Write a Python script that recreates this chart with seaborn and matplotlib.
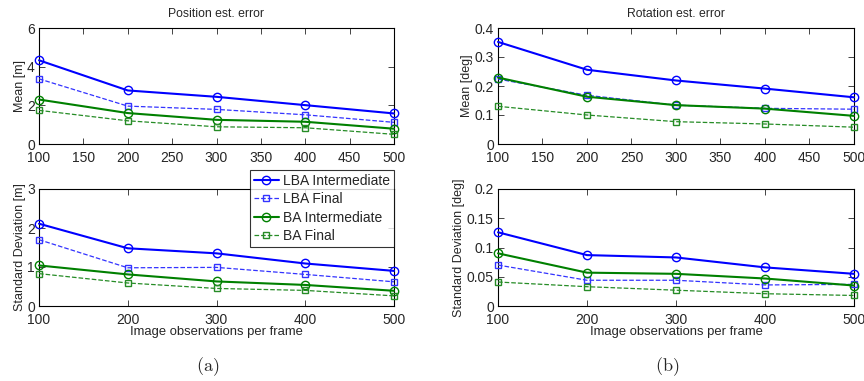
import matplotlib
matplotlib.use("Agg")
import matplotlib.pyplot as plt
import seaborn as sns
import pandas as pd

obs = [100, 200, 300, 400, 500]
series = ["LBA Intermediate", "LBA Final", "BA Intermediate", "BA Final"]

pos_mean_lba_int = [4.33, 2.77, 2.44, 2.01, 1.58]
pos_mean_lba_fin = [3.37, 1.96, 1.79, 1.51, 1.12]
pos_mean_ba_int = [2.30, 1.60, 1.25, 1.15, 0.79]
pos_mean_ba_fin = [1.74, 1.20, 0.89, 0.84, 0.50]

rot_mean_lba_int = [0.352, 0.256, 0.219, 0.191, 0.161]
rot_mean_lba_fin = [0.224, 0.168, 0.134, 0.123, 0.120]
rot_mean_ba_int = [0.229, 0.163, 0.134, 0.122, 0.097]
rot_mean_ba_fin = [0.130, 0.100, 0.077, 0.069, 0.058]

pos_std_lba_int = [2.11, 1.48, 1.35, 1.09, 0.90]
pos_std_lba_fin = [1.70, 0.98, 0.99, 0.81, 0.62]
pos_std_ba_int = [1.04, 0.81, 0.63, 0.54, 0.39]
pos_std_ba_fin = [0.83, 0.59, 0.45, 0.40, 0.26]

rot_std_lba_int = [0.126, 0.087, 0.083, 0.066, 0.055]
rot_std_lba_fin = [0.070, 0.044, 0.044, 0.036, 0.037]
rot_std_ba_int = [0.090, 0.057, 0.055, 0.047, 0.035]
rot_std_ba_fin = [0.041, 0.033, 0.027, 0.021, 0.018]

styles = {
    "LBA Intermediate": dict(color=(0, 0, 1), linestyle="-", marker="o", lw=1.5, ms=6),
    "LBA Final": dict(color=(0.2, 0.2, 1), linestyle="--", marker="s", lw=0.9, ms=4),
    "BA Intermediate": dict(color=(0, 0.5, 0), linestyle="-", marker="o", lw=1.5, ms=6),
    "BA Final": dict(color=(0.15, 0.55, 0.15), linestyle="--", marker="s", lw=0.9, ms=4),
}

sns.set_style("ticks")
plt.rcParams["font.family"] = ["Liberation Sans", "DejaVu Sans"]
plt.rcParams["mathtext.fontset"] = "cm"


def make_df(vals):
    rows = []
    for name, v in zip(series, vals):
        for x, y in zip(obs, v):
            rows.append({"obs": x, "value": y, "series": name})
    return pd.DataFrame(rows)


def draw(ax, df, ylim, yticks, xticks, ylabel, title=None, xlabel=None):
    for name in series:
        st = styles[name]
        sns.lineplot(data=df[df["series"] == name], x="obs", y="value", ax=ax,
                     color=st["color"], linestyle=st["linestyle"], marker=st["marker"],
                     linewidth=st["lw"], markersize=st["ms"], markerfacecolor="none",
                     markeredgecolor=st["color"], markeredgewidth=1.0, label=name,
                     legend=False, clip_on=False, zorder=3)
    ax.set_xlim(100, 500)
    ax.set_ylim(*ylim)
    ax.set_xticks(xticks)
    ax.set_yticks(yticks)
    ax.set_yticklabels([("%g" % t) for t in yticks])
    ax.tick_params(direction="in", top=True, right=True, labelsize=10, length=4, width=0.6)
    ax.tick_params(axis="x", pad=5)
    ax.tick_params(axis="y", pad=3)
    for s in ax.spines.values():
        s.set_linewidth(0.8)
        s.set_color("black")
    ax.set_ylabel(ylabel, fontsize=9, labelpad=1)
    ax.set_xlabel(xlabel if xlabel else "", fontsize=9.4, labelpad=-1)
    if title:
        ax.set_title(title, fontsize=8.8, pad=8)


fig = plt.figure(figsize=(8.64, 3.81), dpi=100)
W, H = 864, 381


def add_ax(x0, x1, y0, y1):
    return fig.add_axes([x0 / W, 1 - y1 / H, (x1 - x0) / W, (y1 - y0) / H])


ax1 = add_ax(39, 394, 28, 144)
ax2 = add_ax(498, 854, 28, 144)
ax3 = add_ax(39, 394, 189, 306)
ax4 = add_ax(498, 854, 189, 306)

draw(ax1, make_df([pos_mean_lba_int, pos_mean_lba_fin, pos_mean_ba_int, pos_mean_ba_fin]),
     (0, 6), [0, 2, 4, 6], range(100, 501, 50), "Mean [m]", title="Position est. error")
draw(ax2, make_df([rot_mean_lba_int, rot_mean_lba_fin, rot_mean_ba_int, rot_mean_ba_fin]),
     (0, 0.4), [0, 0.1, 0.2, 0.3, 0.4], range(100, 501, 50), "Mean [deg]", title="Rotation est. error")
draw(ax3, make_df([pos_std_lba_int, pos_std_lba_fin, pos_std_ba_int, pos_std_ba_fin]),
     (0, 3), [0, 1, 2, 3], range(100, 501, 100), "Standard Deviation [m]",
     xlabel="Image observations per frame")
draw(ax4, make_df([rot_std_lba_int, rot_std_lba_fin, rot_std_ba_int, rot_std_ba_fin]),
     (0, 0.2), [0, 0.05, 0.1, 0.15, 0.2], range(100, 501, 100), "Standard Deviation [deg]",
     xlabel="Image observations per frame")

handles, labels = ax3.get_legend_handles_labels()
leg = fig.legend(handles, labels, loc="upper right", bbox_to_anchor=(394 / W, 1 - 170 / H),
                 fontsize=10, frameon=True, fancybox=False, edgecolor="black",
                 borderpad=0.3, labelspacing=0.3, handlelength=1.8, handletextpad=0.3,
                 borderaxespad=0)
leg.get_frame().set_linewidth(0.8)
leg.set_zorder(5)

fig.text(208 / W, 1 - 367 / H, r"$\mathrm{(a)}$", ha="center", va="center", fontsize=13)
fig.text(667 / W, 1 - 367 / H, r"$\mathrm{(b)}$", ha="center", va="center", fontsize=13)

fig.savefig("out.png", dpi=100)
